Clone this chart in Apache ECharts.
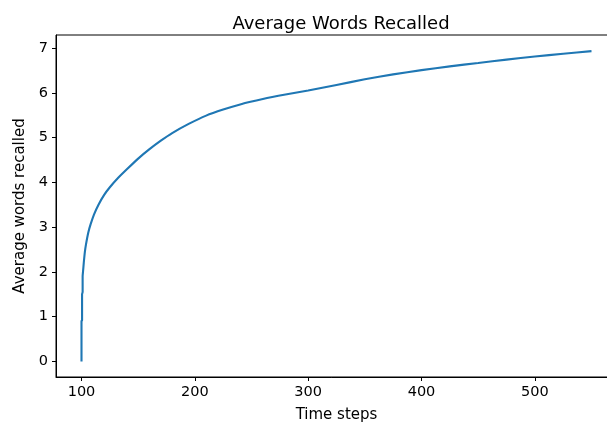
<!DOCTYPE html>
<html>
<head>
<meta charset="utf-8">
<script src="https://cdn.jsdelivr.net/npm/echarts@6/dist/echarts.min.js"></script>
<style>
  html, body { margin: 0; padding: 0; background: #fff; }
  #chart { width: 607px; height: 429px; }
</style>
</head>
<body>
<div id="chart"></div>
<script>
// time step of each sample
const steps = [100, 100, 100.5, 100.5, 101, 101, 101.5, 102, 103, 104, 106, 108, 111, 115, 120, 125, 132, 140,
    150, 160, 170, 180, 195, 210, 225, 240, 260, 280, 300, 325, 350, 375, 400, 425, 450, 475, 500, 525, 550]
// average words recalled at that step
const recalled = [0, 0.9, 0.92, 1.5, 1.55, 1.9, 2.05, 2.2, 2.45, 2.62, 2.88, 3.06, 3.28, 3.5, 3.72, 3.89, 4.09, 4.29,
    4.53, 4.74, 4.93, 5.1, 5.31, 5.49, 5.625, 5.74, 5.86, 5.96, 6.05, 6.175, 6.3, 6.41, 6.505, 6.59, 6.665, 6.74, 6.81, 6.87, 6.93]
const xTicks = [100, 200, 300, 400, 500]
const yTicks = [0, 1, 2, 3, 4, 5, 6, 7]

const font = 'DejaVu Sans'
const myChart = echarts.init(document.getElementById('chart'))
myChart.setOption({
    animation: false,
    title: {
        text: 'Average Words Recalled',
        left: 336,
        top: 10,
        textAlign: 'center',
        textStyle: { fontFamily: font, fontSize: 18, fontWeight: 'normal', color: '#000' }
    },
    // right spine falls just outside the picture, like the cropped original
    grid: {
        left: 56, top: 35, width: 561, height: 342,
        outerBoundsMode: 'none', containLabel: false,
        show: true, borderColor: '#000', borderWidth: 1
    },
    xAxis: {
        type: 'value',
        min: 77.5,
        max: 572.5,
        name: 'Time steps',
        nameLocation: 'middle',
        nameGap: 31,
        nameTextStyle: { fontFamily: font, fontSize: 15, color: '#000' },
        axisLine: { show: true, onZero: false, lineStyle: { color: '#000', width: 1 } },
        axisTick: { show: true, customValues: xTicks, length: 4, lineStyle: { color: '#000' } },
        axisLabel: { customValues: xTicks, margin: 8, fontFamily: font, fontSize: 14.5, color: '#000' },
        splitLine: { show: false }
    },
    yAxis: {
        type: 'value',
        min: -0.347,
        max: 7.29,
        name: 'Average words recalled',
        nameLocation: 'middle',
        nameGap: 28,
        nameTextStyle: { fontFamily: font, fontSize: 15, color: '#000' },
        axisLine: { show: true, onZero: false, lineStyle: { color: '#000', width: 1 } },
        axisTick: { show: true, customValues: yTicks, length: 4, lineStyle: { color: '#000' } },
        axisLabel: { customValues: yTicks, margin: 8, fontFamily: font, fontSize: 14.5, color: '#000' },
        splitLine: { show: false }
    },
    series: [{
        type: 'line',
        showSymbol: false,
        smooth: 0.2,
        data: steps.map((s, i) => [s, recalled[i]]),
        lineStyle: { color: '#1f77b4', width: 2.1 },
        itemStyle: { color: '#1f77b4' }
    }]
})
</script>
</body>
</html>
